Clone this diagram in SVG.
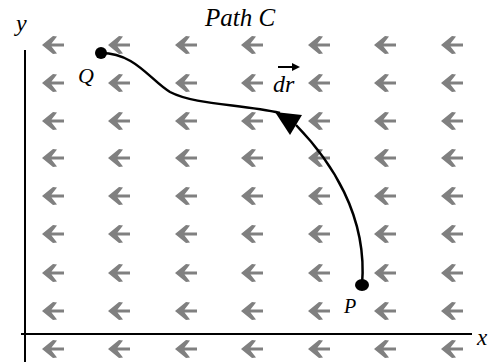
<svg xmlns="http://www.w3.org/2000/svg" xmlns:xlink="http://www.w3.org/1999/xlink" width="493" height="362" viewBox="0 0 493 362">
<style>
.lbl{font-family:"Liberation Serif","Times New Roman",serif;font-style:italic;fill:#000}
.fld{fill:#808080}
.ax{stroke:#000;stroke-width:2;fill:none}
.crv{stroke:#000;stroke-width:2.5;fill:none}
</style>
<defs>
<path id="fa" class="fld" d="M-11,0 L0,-9 L4,-8.5 L-1.5,-1.4 L11,-1.4 L11,1.4 L-1.5,1.4 L4,8.5 L0,9 Z"/>
</defs>
<rect width="493" height="362" fill="#fff"/>
<g id="field">
<use xlink:href="#fa" x="53" y="45"/><use xlink:href="#fa" x="119" y="45"/><use xlink:href="#fa" x="186" y="45"/><use xlink:href="#fa" x="252" y="45"/><use xlink:href="#fa" x="319" y="45"/><use xlink:href="#fa" x="385" y="45"/><use xlink:href="#fa" x="452" y="45"/>
<use xlink:href="#fa" x="53" y="83"/><use xlink:href="#fa" x="119" y="83"/><use xlink:href="#fa" x="186" y="83"/><use xlink:href="#fa" x="252" y="83"/><use xlink:href="#fa" x="319" y="83"/><use xlink:href="#fa" x="385" y="83"/><use xlink:href="#fa" x="452" y="83"/>
<use xlink:href="#fa" x="53" y="121"/><use xlink:href="#fa" x="119" y="121"/><use xlink:href="#fa" x="186" y="121"/><use xlink:href="#fa" x="252" y="121"/><use xlink:href="#fa" x="319" y="121"/><use xlink:href="#fa" x="385" y="121"/><use xlink:href="#fa" x="452" y="121"/>
<use xlink:href="#fa" x="53" y="158"/><use xlink:href="#fa" x="119" y="158"/><use xlink:href="#fa" x="186" y="158"/><use xlink:href="#fa" x="252" y="158"/><use xlink:href="#fa" x="319" y="158"/><use xlink:href="#fa" x="385" y="158"/><use xlink:href="#fa" x="452" y="158"/>
<use xlink:href="#fa" x="53" y="196"/><use xlink:href="#fa" x="119" y="196"/><use xlink:href="#fa" x="186" y="196"/><use xlink:href="#fa" x="252" y="196"/><use xlink:href="#fa" x="319" y="196"/><use xlink:href="#fa" x="385" y="196"/><use xlink:href="#fa" x="452" y="196"/>
<use xlink:href="#fa" x="53" y="234"/><use xlink:href="#fa" x="119" y="234"/><use xlink:href="#fa" x="186" y="234"/><use xlink:href="#fa" x="252" y="234"/><use xlink:href="#fa" x="319" y="234"/><use xlink:href="#fa" x="385" y="234"/><use xlink:href="#fa" x="452" y="234"/>
<use xlink:href="#fa" x="53" y="273"/><use xlink:href="#fa" x="119" y="273"/><use xlink:href="#fa" x="186" y="273"/><use xlink:href="#fa" x="252" y="273"/><use xlink:href="#fa" x="319" y="273"/><use xlink:href="#fa" x="385" y="273"/><use xlink:href="#fa" x="452" y="273"/>
<use xlink:href="#fa" x="53" y="311"/><use xlink:href="#fa" x="119" y="311"/><use xlink:href="#fa" x="186" y="311"/><use xlink:href="#fa" x="252" y="311"/><use xlink:href="#fa" x="319" y="311"/><use xlink:href="#fa" x="385" y="311"/><use xlink:href="#fa" x="452" y="311"/>
<use xlink:href="#fa" x="53" y="349"/><use xlink:href="#fa" x="119" y="349"/><use xlink:href="#fa" x="186" y="349"/><use xlink:href="#fa" x="252" y="349"/><use xlink:href="#fa" x="319" y="349"/><use xlink:href="#fa" x="385" y="349"/><use xlink:href="#fa" x="452" y="349"/>
</g>
<g id="axes">
<line class="ax" x1="25" y1="50" x2="25" y2="362"/>
<line class="ax" x1="21" y1="334" x2="472" y2="334"/>
<text class="lbl" x="16" y="31" font-size="24">y</text>
<text class="lbl" x="477" y="345" font-size="23">x</text>
</g>
<g id="connectors">
<path class="crv" d="M101,53 C135,53 150,80 170,92 C195,105 240,104 280,113"/>
<path class="crv" d="M296,125 C330,160 368,215 362,285"/>
<polygon points="275,112 302,115 290,135" fill="#000"/>
</g>
<g id="Q">
<circle cx="101" cy="53" r="6" fill="#000"/>
<text class="lbl" x="78" y="83" font-size="22">Q</text>
</g>
<g id="P">
<ellipse cx="362" cy="285" rx="7" ry="6" fill="#000"/>
<text class="lbl" x="344" y="313" font-size="20">P</text>
</g>
<g id="dr">
<text class="lbl" x="273" y="92" font-size="24">dr</text>
<line x1="278" y1="67" x2="293" y2="67" stroke="#000" stroke-width="2"/>
<polygon points="292,63 300,67 292,71" fill="#000"/>
</g>
<text class="lbl" x="240" y="26" font-size="25" text-anchor="middle">Path C</text>
</svg>
